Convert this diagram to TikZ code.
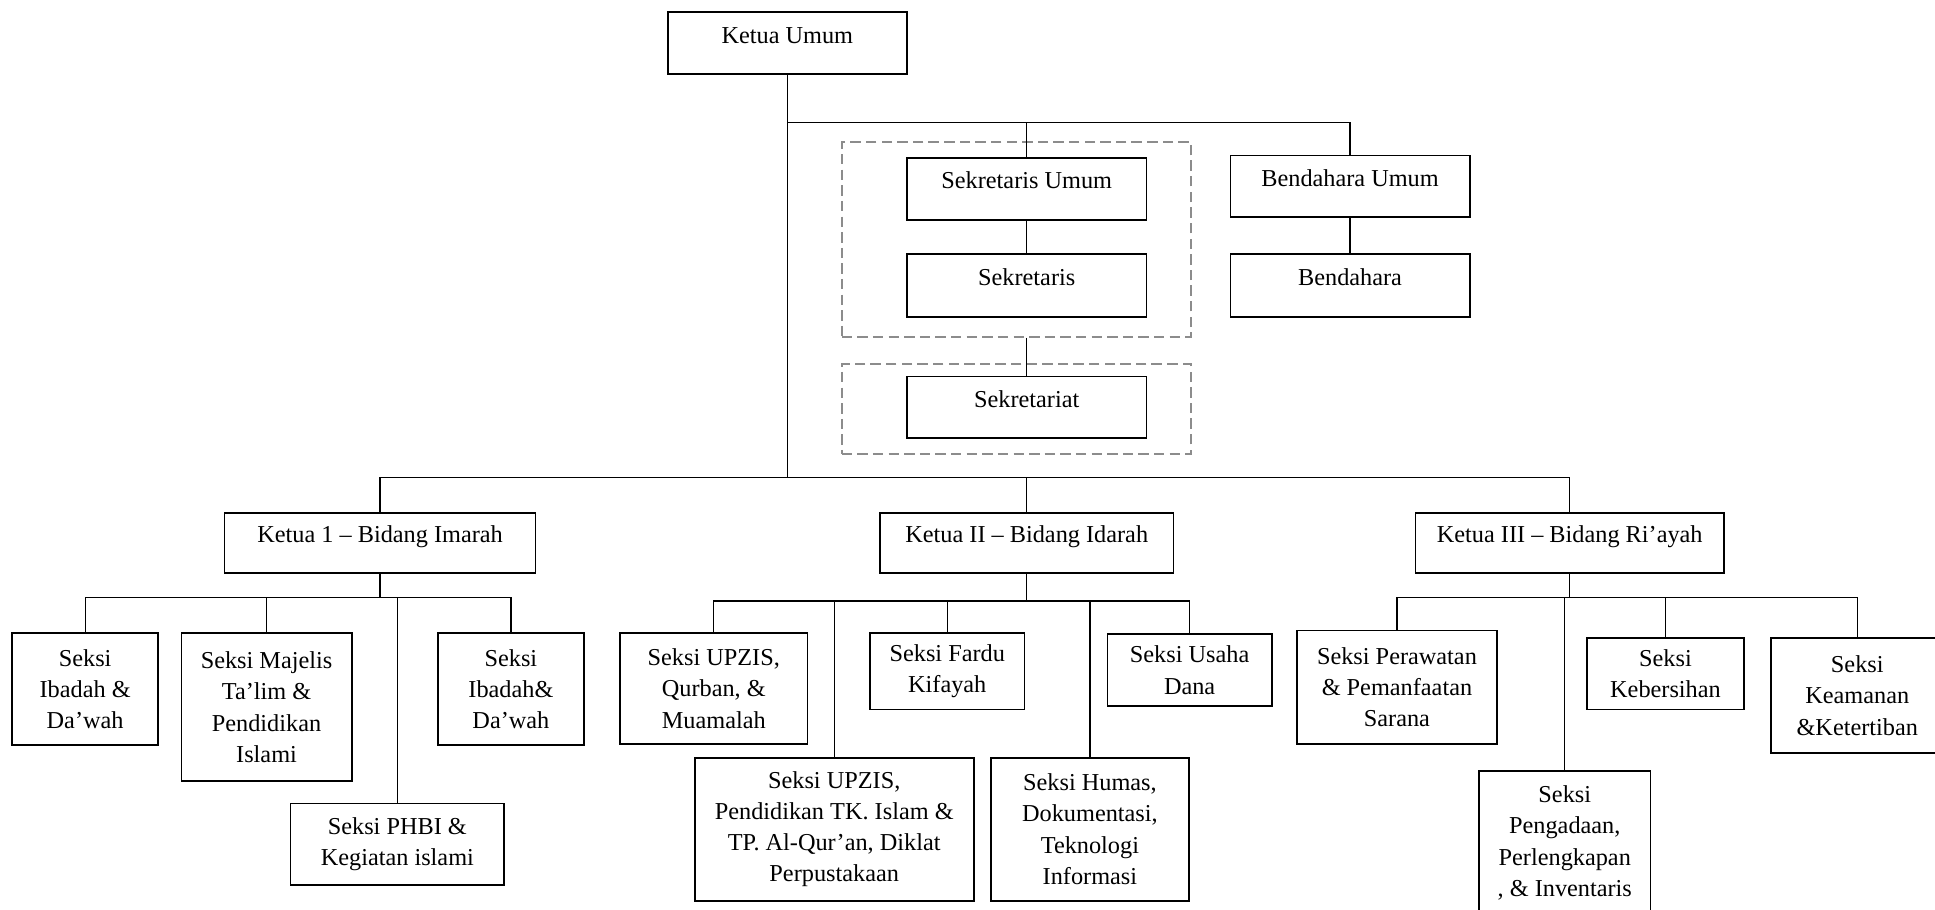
\documentclass[tikz,border=0pt]{standalone}
\usepackage{fontspec}
\setmainfont{Liberation Serif}

\begin{document}
\begin{tikzpicture}[
    font=\fontsize{14}{18}\selectfont,
    unit/.style={draw, line width=1pt, inner sep=2pt, align=center},
    onebox/.style={unit, minimum width=4.85cm, minimum height=1.25cm, text height=0.3cm, text depth=0.3cm},
    seksi/.style 2 args={unit, minimum width=#1, minimum height=#2},
    dashbox/.style={draw=black!45, line width=1.1pt, dash pattern=on 6pt off 3pt, minimum width=7.075cm},
    link/.style={line width=0.7pt}
]
    \useasboundingbox (0,0) rectangle (39.2,-18.425);

    % Dashed groups
    \node[dashbox, minimum height=3.95cm] (grpsek) at (20.59,-4.85) {};
    \node[dashbox, minimum height=1.825cm] (grpsekre) at (20.59,-8.29) {};

    % Top of the organisation
    \node[onebox] (ketuaumum) at (15.95,-0.875) {Ketua Umum};
    \node[onebox] (sekum) at (20.8,-3.825) {Sekretaris Umum};
    \node[onebox, minimum height=1.275cm] (sekretaris) at (20.8,-5.79) {Sekretaris};
    \node[onebox] (benum) at (27.35,-3.775) {Bendahara Umum};
    \node[onebox, minimum height=1.275cm] (bendahara) at (27.35,-5.79) {Bendahara};
    \node[onebox] (sekretariat) at (20.8,-8.25) {Sekretariat};

    % Ketua bidang
    \node[onebox, minimum width=6.3cm, minimum height=1.225cm] (ketuaI) at (7.7,-11.0) {Ketua 1 – Bidang Imarah};
    \node[onebox, minimum width=5.95cm, minimum height=1.225cm] (ketuaII) at (20.8,-11.0) {Ketua II – Bidang Idarah};
    \node[onebox, minimum width=6.25cm, minimum height=1.225cm] (ketuaIII) at (31.8,-11.0) {Ketua III – Bidang Ri’ayah};

    % Seksi under Ketua 1
    \node[seksi={2.95cm}{2.275cm}] (ibadahA) at (1.725,-13.96) {Seksi\\Ibadah \&\\Da’wah};
    \node[seksi={3.45cm}{3.0cm}] (majelis) at (5.4,-14.325) {Seksi Majelis\\Ta’lim \&\\Pendidikan\\Islami};
    \node[seksi={4.325cm}{1.65cm}] (phbi) at (8.05,-17.1) {Seksi PHBI \&\\Kegiatan islami};
    \node[seksi={2.95cm}{2.275cm}] (ibadahB) at (10.35,-13.96) {Seksi\\Ibadah\&\\Da’wah};

    % Seksi under Ketua II
    \node[seksi={3.8cm}{2.25cm}] (qurban) at (14.46,-13.95) {Seksi UPZIS,\\Qurban, \&\\Muamalah};
    \node[seksi={5.65cm}{2.9cm}] (pendidikan) at (16.9,-16.8) {Seksi UPZIS,\\Pendidikan TK. Islam \&\\TP. Al-Qur’an, Diklat\\Perpustakaan};
    \node[seksi={3.125cm}{1.55cm}] (fardu) at (19.19,-13.6) {Seksi Fardu\\Kifayah};
    \node[seksi={4.0cm}{2.9cm}] (humas) at (22.08,-16.8) {Seksi Humas,\\Dokumentasi,\\Teknologi\\Informasi};
    \node[seksi={3.325cm}{1.45cm}] (usaha) at (24.1,-13.575) {Seksi Usaha\\Dana};

    % Seksi under Ketua III
    \node[seksi={4.05cm}{2.3cm}] (perawatan) at (28.3,-13.925) {Seksi Perawatan\\\& Pemanfaatan\\Sarana};
    \node[seksi={3.475cm}{2.925cm}] (pengadaan) at (31.7,-17.075) {Seksi\\Pengadaan,\\Perlengkapan\\, \& Inventaris};
    \node[seksi={3.175cm}{1.45cm}] (kebersihan) at (33.74,-13.65) {Seksi\\Kebersihan};
    \node[seksi={3.5cm}{2.34cm}] (keamanan) at (37.625,-14.09) {Seksi\\Keamanan\\\&Ketertiban};

    % Lines from Ketua Umum
    \coordinate (topbus) at (15.95,-2.475);
    \coordinate (midbus) at (15.95,-9.675);
    \draw[link] (ketuaumum.south) -- (midbus);
    \draw[link] (topbus) -| (benum.north);
    \draw[link] (sekum.north) -- (sekum.north |- topbus);
    \draw[link] (sekum) -- (sekretaris);
    \draw[link] (benum) -- (bendahara);
    \draw[link] (sekretaris.south |- grpsek.south) -- (sekretariat.north);
    \draw[link] (ketuaI.north) |- (midbus) -| (ketuaIII.north);
    \draw[link] (ketuaII.north) -- (ketuaII.north |- midbus);

    % Bidang Imarah
    \coordinate (busI) at (7.7,-12.1);
    \draw[link] (ketuaI.south) -- (busI);
    \draw[link] (ibadahA.north) |- (busI) -| (ibadahB.north);
    \foreach \n in {majelis,phbi}
        \draw[link] (\n.north) -- (\n.north |- busI);

    % Bidang Idarah
    \coordinate (busII) at (20.8,-12.175);
    \draw[link] (ketuaII.south) -- (busII);
    \draw[link] (qurban.north) |- (busII) -| (usaha.north);
    \foreach \n in {pendidikan,fardu,humas}
        \draw[link] (\n.north) -- (\n.north |- busII);

    % Bidang Ri'ayah
    \coordinate (busIII) at (31.8,-12.1);
    \draw[link] (ketuaIII.south) -- (busIII);
    \draw[link] (perawatan.north) |- (busIII) -| (keamanan.north);
    \foreach \n in {pengadaan,kebersihan}
        \draw[link] (\n.north) -- (\n.north |- busIII);

\end{tikzpicture}
\end{document}
